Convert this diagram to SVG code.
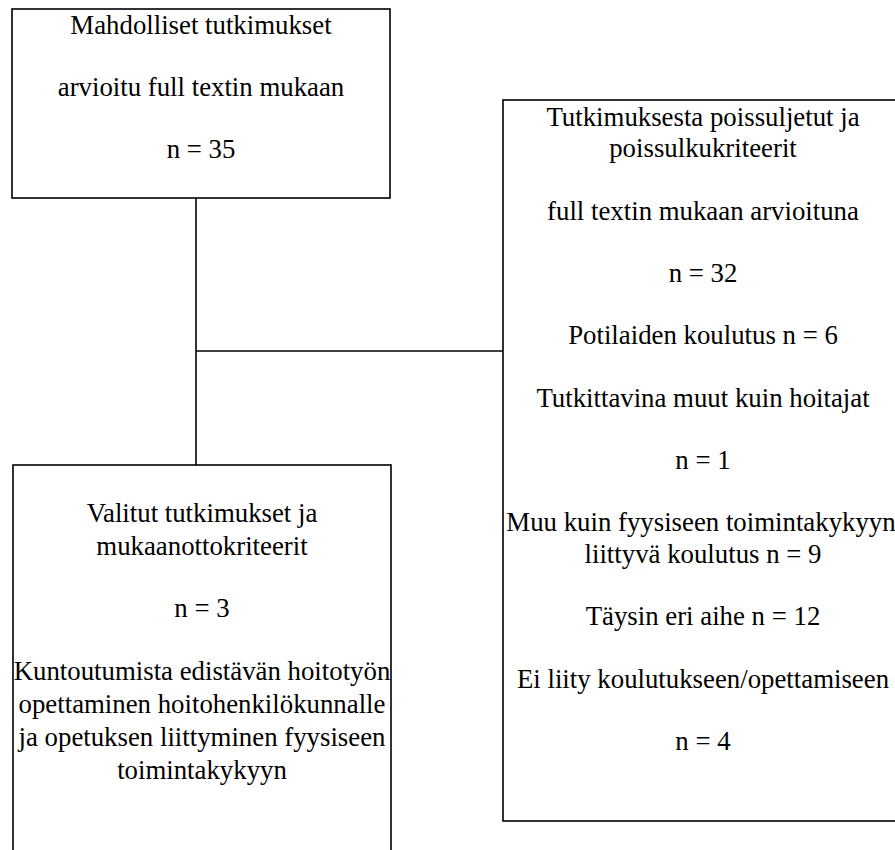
<svg xmlns="http://www.w3.org/2000/svg" width="895" height="850" viewBox="0 0 895 850">
<style>
.box{fill:#fff;stroke:#000;stroke-width:1.6}
.con{fill:none;stroke:#000;stroke-width:1.6}
.t{font-family:"Liberation Serif","Times New Roman",Tinos,serif;font-size:26.8px;fill:#000;text-anchor:middle}
</style>
<rect width="895" height="850" fill="#fff"/>
<g id="connectors">
<line class="con" x1="196" y1="198" x2="196" y2="465"/>
<line class="con" x1="196" y1="351" x2="503" y2="351"/>
</g>
<g id="node-possible" class="t" font-family="Liberation Serif, serif">
<rect class="box" x="12" y="9" width="378" height="189"/>
<text x="201" y="34">Mahdolliset tutkimukset</text>
<text x="201" y="96">arvioitu full textin mukaan</text>
<text x="201" y="158">n = 35</text>
</g>
<g id="node-excluded" class="t" font-family="Liberation Serif, serif">
<rect class="box" x="503" y="100" width="420" height="721"/>
<text x="703" y="126">Tutkimuksesta poissuljetut ja</text>
<text x="703" y="157">poissulkukriteerit</text>
<text x="703" y="220">full textin mukaan arvioituna</text>
<text x="703" y="282">n = 32</text>
<text x="703" y="344">Potilaiden koulutus n = 6</text>
<text x="703" y="407">Tutkittavina muut kuin hoitajat</text>
<text x="703" y="469">n = 1</text>
<text x="701" y="531">Muu kuin fyysiseen toimintakykyyn</text>
<text x="703" y="563">liittyvä koulutus n = 9</text>
<text x="703" y="625">Täysin eri aihe n = 12</text>
<text x="703" y="688">Ei liity koulutukseen/opettamiseen</text>
<text x="703" y="750">n = 4</text>
</g>
<g id="node-selected" class="t" font-family="Liberation Serif, serif">
<rect class="box" x="13" y="465" width="378" height="420"/>
<text x="202" y="522">Valitut tutkimukset ja</text>
<text x="202" y="555">mukaanottokriteerit</text>
<text x="202" y="617">n = 3</text>
<text x="202" y="680">Kuntoutumista edistävän hoitotyön</text>
<text x="202" y="713">opettaminen hoitohenkilökunnalle</text>
<text x="202" y="746">ja opetuksen liittyminen fyysiseen</text>
<text x="202" y="779">toimintakykyyn</text>
</g>
</svg>
